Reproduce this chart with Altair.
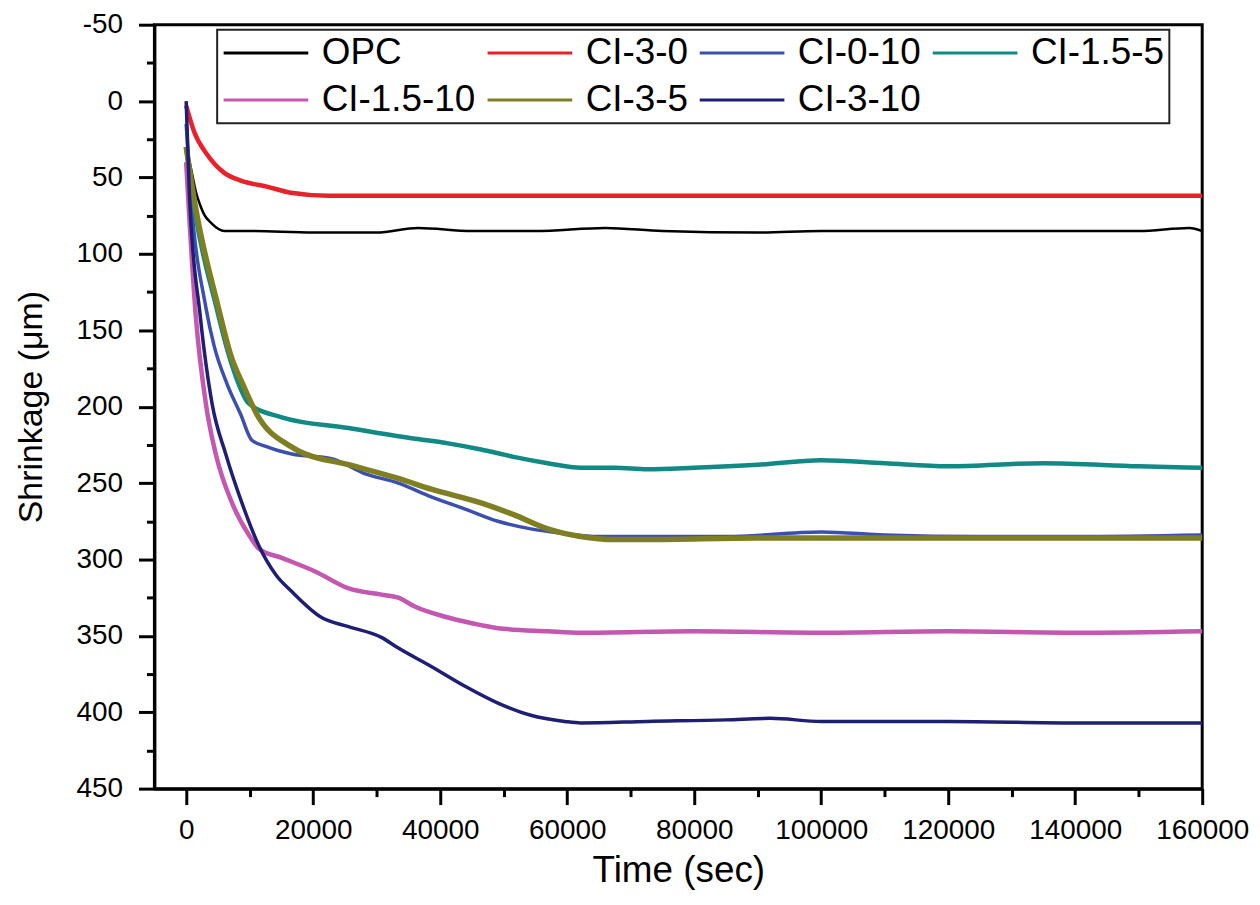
import altair as alt
import pandas as pd

series_names = ["OPC", "CI-3-0", "CI-0-10", "CI-1.5-5", "CI-1.5-10", "CI-3-5", "CI-3-10"]
series_colors = ["#000000", "#E8212B", "#3B4FB0", "#118A85", "#C457B0", "#7E7F22", "#1E1E74"]
series_widths = [2.5, 4.5, 3.5, 4.5, 4.5, 5.5, 3.5]

opc_t = [0, 800, 1570, 2200, 2800, 4000, 6000, 10000, 20000, 30000, 36500, 45000, 55000, 66000, 75000, 90000, 100000, 120000, 140000, 150000, 158000, 160000]
opc_v = [30, 45, 60, 68, 74, 80, 85, 85, 86, 86, 83, 85, 85, 83, 85, 86, 85, 85, 85, 85, 83, 85]

ci30_t = [0, 1250, 3300, 6000, 8600, 12700, 16500, 22400, 40000, 60000, 80000, 100000, 120000, 140000, 160000]
ci30_v = [3, 20, 35, 47, 52, 56, 60, 62, 62, 62, 62, 62, 62, 62, 62]

ci010_t = [0, 700, 3100, 4390, 6430, 8580, 10350, 12550, 16630, 22900, 28230, 33410, 38590, 43920, 49100, 54270, 59610, 64780, 72630, 85000, 100000, 110000, 125000, 140000, 160000]
ci010_v = [15, 60, 135, 160, 185, 205, 222, 226, 231, 234, 244, 250, 259, 267, 275, 280, 283, 285, 285, 285, 282, 284, 285, 285, 284]

ci155_t = [0, 1500, 4700, 6700, 7800, 9880, 15060, 25570, 36080, 41250, 46430, 51760, 56940, 62120, 67450, 72630, 80000, 90000, 100000, 110000, 120000, 135000, 150000, 160000]
ci155_v = [30, 75, 134, 166, 180, 198, 207, 214, 221, 224, 228, 233, 237, 240, 240, 241, 240, 238, 235, 237, 239, 237, 239, 240]

ci1510_t = [0, 1500, 3100, 4660, 7220, 9880, 11450, 15060, 20390, 25570, 30740, 33410, 36080, 41250, 46430, 49100, 56940, 62120, 80000, 100000, 120000, 140000, 160000]
ci1510_v = [40, 140, 198, 231, 263, 284, 293, 299, 308, 319, 323, 325, 331, 338, 343, 345, 347, 348, 347, 348, 347, 348, 347]

ci35_t = [0, 1500, 5000, 7000, 9100, 11140, 16470, 17700, 25570, 33410, 38590, 46430, 51760, 56940, 62120, 67450, 72630, 90000, 110000, 130000, 160000]
ci35_v = [30, 70, 134, 166, 187, 205, 226, 229, 238, 247, 254, 263, 271, 280, 285, 287, 287, 286, 286, 286, 286]

ci310_t = [0, 500, 2200, 4080, 6230, 8780, 11450, 14120, 16630, 21330, 25570, 30740, 33410, 38590, 43920, 49100, 54270, 59610, 62120, 72630, 85000, 92000, 100000, 120000, 140000, 160000]
ci310_v = [0, 60, 140, 198, 231, 263, 291, 310, 321, 338, 344, 351, 358, 370, 383, 394, 402, 406, 407, 406, 405, 404, 406, 406, 407, 407]

series_t = [opc_t, ci30_t, ci010_t, ci155_t, ci1510_t, ci35_t, ci310_t]
series_v = [opc_v, ci30_v, ci010_v, ci155_v, ci1510_v, ci35_v, ci310_v]

x_tick_values = list(range(0, 160001, 10000))
y_tick_values = list(range(-50, 451, 25))

rows = []
for name, ts, vs, w in zip(series_names, series_t, series_v, series_widths):
    for i, (t, v) in enumerate(zip(ts, vs)):
        rows.append({"series": name, "t": t, "v": v, "w": w, "i": i})
df = pd.DataFrame(rows)

FONT = "Liberation Sans"

x_axis = alt.Axis(
    values=x_tick_values, format="d",
    labelExpr="datum.value % 20000 === 0 ? '' + datum.value : ''",
    tickSize={"condition": {"test": "datum.value % 20000 === 0", "value": 16}, "value": 8},
    tickWidth=3, tickColor="black", domainWidth=3, domainColor="black",
    labelFontSize=28, labelFont=FONT, labelColor="black", labelPadding=12,
    labelOverlap=False, labelFlush=False, grid=False,
    titleFontSize=37, titleFont=FONT, titleFontWeight="normal", titleColor="black",
    titleY=93, titleBaseline="alphabetic",
)
y_axis = alt.Axis(
    values=y_tick_values, format="d",
    labelExpr="datum.value % 50 === 0 ? '' + datum.value : ''",
    tickSize={"condition": {"test": "datum.value % 50 === 0", "value": 16}, "value": 8},
    tickWidth=3, tickColor="black", domainWidth=3, domainColor="black",
    labelFontSize=28, labelFont=FONT, labelColor="black", labelPadding=16,
    labelOverlap=False, labelFlush=False, grid=False,
    titleFontSize=34, titleFont=FONT, titleFontWeight="normal", titleColor="black",
    titleX=-106,
)

legend = alt.Legend(
    orient="none", legendX=63, legendY=5, columns=4, direction="horizontal",
    symbolType="stroke", symbolSize=7225, symbolStrokeWidth=3,
    clipHeight=37, labelFontSize=37, labelFont=FONT, labelColor="black",
    labelOffset=12, columnPadding=10, rowPadding=9, padding=5,
    strokeColor="#222222", fillColor="white", labelLimit=400,
)

chart = alt.Chart(df).mark_line(strokeJoin="round", interpolate="monotone").encode(
    x=alt.X("t:Q", title="Time (sec)",
            scale=alt.Scale(domain=[-5000, 160000], nice=False, zero=False), axis=x_axis),
    y=alt.Y("v:Q", title="Shrinkage (μm)",
            scale=alt.Scale(domain=[-50, 450], reverse=True, nice=False, zero=False), axis=y_axis),
    color=alt.Color("series:N", title=None, sort=series_names,
                    scale=alt.Scale(domain=series_names, range=series_colors), legend=legend),
    strokeWidth=alt.StrokeWidth("w:Q", scale=None, legend=None),
    order=alt.Order("i:Q"),
).properties(
    width=1052, height=767,
    autosize=alt.AutoSizeParams(type="none"),
    padding={"left": 147, "top": 15, "right": 50, "bottom": 100},
).configure_view(
    stroke="black", strokeWidth=3
).configure_legend(
    strokeWidth=2
)

chart.save("out.html", embed_options={"renderer": "svg", "actions": False})
